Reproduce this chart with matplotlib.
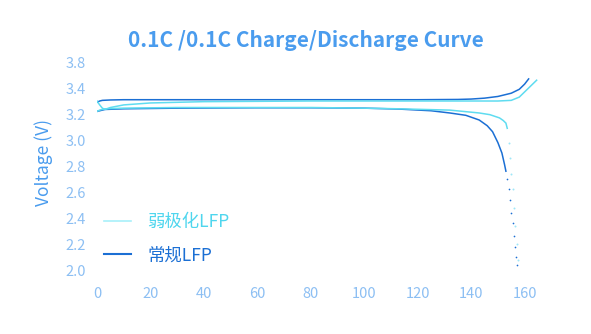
import matplotlib
matplotlib.use("Agg")
import matplotlib.pyplot as plt

plt.rcParams['font.family'] = ['Noto Sans CJK SC', 'DejaVu Sans']

# 常规LFP (standard)
std_chg_x = [0, 1, 2, 5, 10, 20, 40, 60, 80, 100, 120, 135, 140, 145, 150, 155, 158, 160, 161.5]
std_chg_v = [3.29, 3.30, 3.305, 3.308, 3.31, 3.31, 3.31, 3.31, 3.31, 3.31, 3.31, 3.312, 3.315,
             3.322, 3.335, 3.36, 3.39, 3.43, 3.47]
std_dis_x = [0, 1, 3, 10, 30, 60, 80, 100, 113, 125, 132, 138, 143, 146, 148, 150, 151.5, 152.5, 153]
std_dis_v = [3.22, 3.225, 3.235, 3.24, 3.245, 3.248, 3.248, 3.245, 3.238, 3.225, 3.208, 3.19,
             3.154, 3.11, 3.064, 2.98, 2.90, 2.81, 2.76]
std_tail_x = [153.5, 154, 154.5, 155, 155.5, 156, 156.4, 156.8, 157.2]
std_tail_v = [2.70, 2.62, 2.54, 2.44, 2.36, 2.26, 2.18, 2.10, 2.04]

# 弱极化LFP (low polarization)
lp_chg_x = [0, 1, 2, 3, 5, 10, 20, 40, 80, 120, 150, 155, 158, 160, 162, 164.5]
lp_chg_v = [3.30, 3.27, 3.245, 3.235, 3.25, 3.27, 3.285, 3.295, 3.30, 3.30, 3.30, 3.305,
            3.33, 3.37, 3.41, 3.46]
lp_dis_x = [0, 1, 3, 10, 30, 60, 80, 100, 113, 132, 143, 147, 150.6, 152, 153, 153.5]
lp_dis_v = [3.22, 3.23, 3.24, 3.245, 3.25, 3.25, 3.25, 3.245, 3.24, 3.23, 3.208, 3.195,
            3.17, 3.15, 3.13, 3.09]
lp_tail_x = [154, 154.5, 155, 155.5, 156, 156.5, 157, 157.4]
lp_tail_v = [2.98, 2.86, 2.74, 2.62, 2.48, 2.34, 2.20, 2.08]

ytick_pos = [2.0, 2.2, 2.4, 2.6, 2.8, 3.0, 3.2, 3.4, 3.6]
ytick_lab = ["2.0", "2.2", "2.4", "2.6", "2.8", "3.0", "3.2", "3.4", "3.8"]
xticks = [0, 20, 40, 60, 80, 100, 120, 140, 160]

dark = "#1b6fd4"
cyan = "#5fdcf0"
tick_c = "#8cbff3"
title_c = "#4a9cee"

fig = plt.figure(figsize=(5.91, 3.34), dpi=100)
ax = fig.add_axes([97 / 591, 0.1916, (546 - 97) / 591, 0.8338 - 0.1916])

ax.plot(std_chg_x, std_chg_v, color=dark, lw=1.1)
ax.plot(std_dis_x, std_dis_v, color=dark, lw=1.1)
ax.scatter(std_tail_x, std_tail_v, color=dark, s=1.5, lw=0)
ax.plot(lp_chg_x, lp_chg_v, color=cyan, lw=1.1)
ax.plot(lp_dis_x, lp_dis_v, color=cyan, lw=1.1)
ax.scatter(lp_tail_x, lp_tail_v, color="#9fe6f8", s=2, lw=0)

ax.set_xlim(0, 168)
ax.set_ylim(2.0, 3.65)
ax.set_xticks(xticks)
ax.set_yticks(ytick_pos)
ax.set_yticklabels(ytick_lab)
ax.tick_params(length=0, colors=tick_c, labelsize=10.5)
ax.tick_params(axis='x', pad=12)
ax.tick_params(axis='y', pad=8)
for s in ax.spines.values():
    s.set_visible(False)

ax.set_ylabel("Voltage (V)", color=title_c, fontsize=12.5, labelpad=9)
fig.suptitle("0.1C /0.1C Charge/Discharge Curve", color=title_c, fontsize=15,
             fontweight='bold', x=0.517, y=0.91)

h1, = ax.plot([], [], color="#a8f0fa", lw=1.2)
h2, = ax.plot([], [], color=dark, lw=1.5)
leg = ax.legend([h1, h2], ["弱极化LFP", "常规LFP"], loc='upper left',
                bbox_to_anchor=(-0.02, 0.34), frameon=False, fontsize=12.5,
                handlelength=1.6, handletextpad=0.9, labelspacing=0.9)
leg.get_texts()[0].set_color("#4fd6ee")
leg.get_texts()[1].set_color(dark)

fig.savefig("out.png", dpi=100)
